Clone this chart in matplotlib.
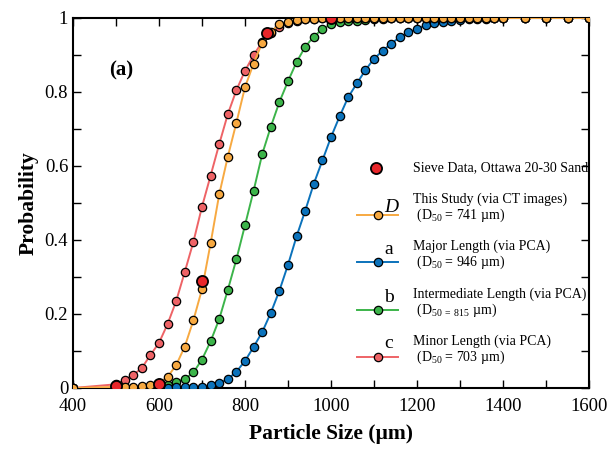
import numpy as np
import matplotlib
matplotlib.use("Agg")
import matplotlib.pyplot as plt
from matplotlib.ticker import MultipleLocator

plt.rcParams['font.family'] = ['Liberation Serif', 'DejaVu Serif']
plt.rcParams['mathtext.fontset'] = 'custom'
plt.rcParams['mathtext.rm'] = 'Liberation Serif'
plt.rcParams['mathtext.it'] = 'Liberation Serif:italic'
plt.rcParams['mathtext.bf'] = 'Liberation Serif:bold'

# particle sizes (um) where the CDFs are sampled
sizes = [400, 500, 520, 540, 560, 580, 600, 620, 640, 660, 680, 700, 720, 740, 760,
         780, 800, 820, 840, 860, 880, 900, 920, 940, 960, 980, 1000, 1020, 1040,
         1060, 1080, 1100, 1120, 1140, 1160, 1180, 1200, 1220, 1240, 1260, 1280,
         1300, 1320, 1340, 1360, 1380, 1400, 1450, 1500, 1550, 1600]

# this study (CT images)
p_study = [0.0, 0.003, 0.002, 0.003, 0.005, 0.008, 0.013, 0.030, 0.062, 0.112, 0.183,
           0.267, 0.391, 0.523, 0.625, 0.717, 0.813, 0.877, 0.933, 0.963, 0.983,
           0.990, 0.995, 0.997, 0.998, 0.999, 1.0, 1.0, 1.0, 1.0, 1.0, 1.0, 1.0,
           1.0, 1.0, 1.0, 1.0, 1.0, 1.0, 1.0, 1.0, 1.0, 1.0, 1.0, 1.0, 1.0, 1.0,
           1.0, 1.0, 1.0, 1.0]

# major length (PCA)
p_major = [0.0, 0.0, 0.0, 0.0, 0.0, 0.0, 0.001, 0.001, 0.002, 0.002, 0.003, 0.004,
           0.007, 0.013, 0.024, 0.044, 0.073, 0.111, 0.151, 0.203, 0.263, 0.333,
           0.410, 0.479, 0.552, 0.615, 0.678, 0.734, 0.786, 0.823, 0.859, 0.890,
           0.911, 0.931, 0.948, 0.961, 0.970, 0.981, 0.986, 0.990, 0.992, 0.994,
           0.996, 0.997, 0.998, 0.999, 1.0, 1.0, 1.0, 1.0, 1.0]

# intermediate length (PCA)
p_inter = [0.0, 0.0, 0.0, 0.0, 0.001, 0.002, 0.004, 0.009, 0.017, 0.024, 0.042,
           0.077, 0.126, 0.186, 0.265, 0.348, 0.440, 0.533, 0.632, 0.706, 0.773,
           0.829, 0.881, 0.922, 0.950, 0.970, 0.983, 0.988, 0.991, 0.993, 0.995,
           0.997, 0.998, 0.999, 1.0, 1.0, 1.0, 1.0, 1.0, 1.0, 1.0, 1.0, 1.0, 1.0,
           1.0, 1.0, 1.0, 1.0, 1.0, 1.0, 1.0]

# minor length (PCA)
p_minor = [0.0, 0.010, 0.022, 0.035, 0.054, 0.089, 0.122, 0.173, 0.235, 0.314, 0.395,
           0.490, 0.574, 0.659, 0.740, 0.805, 0.857, 0.900, 0.935, 0.960, 0.976,
           0.987, 0.993, 0.996, 0.998, 0.999, 1.0, 1.0, 1.0, 1.0, 1.0, 1.0, 1.0,
           1.0, 1.0, 1.0, 1.0, 1.0, 1.0, 1.0, 1.0, 1.0, 1.0, 1.0, 1.0, 1.0, 1.0,
           1.0, 1.0, 1.0, 1.0]

# sieve data
sieve_x = [500, 600, 700, 850, 1000]
sieve_p = [0.006, 0.012, 0.29, 0.96, 1.0]

fig = plt.figure(figsize=(6.15, 4.5), dpi=100)
ax = fig.add_axes([73/615, 1 - 388/450, 516/615, 370/450])

mk = dict(marker='o', markersize=6, markeredgecolor='black', markeredgewidth=0.9, lw=1.4)
ax.plot(sizes, p_inter, color='#3cb44a', zorder=2, **mk)
ax.plot(sizes, p_major, color='#0b72bb', zorder=3, **mk)
ax.plot(sizes, p_minor, color='#ee6366', zorder=4, **mk)
ax.plot(sizes, p_study, color='#f7a941', zorder=5, **mk)
ax.plot(sieve_x, sieve_p, ls='none', marker='o', markersize=8, color='#e8262a',
        markeredgecolor='black', markeredgewidth=1.3, zorder=6)

ax.set_xlim(400, 1600)
ax.set_ylim(0, 1)
ax.xaxis.set_major_locator(MultipleLocator(200))
ax.xaxis.set_minor_locator(MultipleLocator(100))
ax.yaxis.set_major_locator(MultipleLocator(0.2))
ax.yaxis.set_minor_locator(MultipleLocator(0.1))
ax.set_yticks([0, 0.2, 0.4, 0.6, 0.8, 1.0])
ax.set_yticklabels(['0', '0.2', '0.4', '0.6', '0.8', '1'])
ax.tick_params(which='both', direction='in', top=True, right=True, length=6,
               width=1.0, labelsize=13.5)
ax.tick_params(axis='x', pad=7)
for s in ax.spines.values():
    s.set_linewidth(1.5)

ax.set_xlabel('Particle Size (µm)', fontsize=15.5, fontweight='bold', labelpad=7)
ax.set_ylabel('Probability', fontsize=15.5, fontweight='bold', labelpad=4)
ax.text(0.07, 0.845, '(a)', transform=ax.transAxes, fontsize=15, fontweight='bold')

# hand-made legend
def px(x, y):
    return (x - 73) / 516, (388 - y) / 370

tr = ax.transAxes
mx, my = px(376, 168)
ax.plot([mx], [my], 'o', markersize=8, color='#e8262a', markeredgecolor='black',
        markeredgewidth=1.3, transform=tr, clip_on=False)
ax.text(px(413, 0)[0], my, 'Sieve Data, Ottawa 20-30 Sand', transform=tr,
        fontsize=10, va='center')

entries = [
    ('#f7a941', 215, 'D', 0.009, 'This Study (via CT images)', r' (D$_{50}$ = 741 µm)'),
    ('#0b72bb', 262, 'a', 0.021, 'Major Length (via PCA)', r' (D$_{50}$ = 946 µm)'),
    ('#3cb44a', 310, 'b', 0.021, 'Intermediate Length (via PCA)', r' (D$_{50\ =\ 815}$ µm)'),
    ('#ee6366', 357, 'c', 0.025, 'Minor Length (via PCA)', r' (D$_{50}$ = 703 µm)'),
]
x0, _ = px(357, 0)
x1, _ = px(398, 0)
xm, _ = px(378, 0)
xt, _ = px(413, 0)
xl, _ = px(384, 0)
for color, ypix, letter, dy, line1, line2 in entries:
    _, y = px(0, ypix)
    ax.plot([x0, x1], [y, y], color=color, lw=1.4, transform=tr, clip_on=False)
    ax.plot([xm], [y], 'o', markersize=6, color=color, markeredgecolor='black',
            markeredgewidth=0.9, transform=tr, clip_on=False)
    ax.text(xl, y + dy, letter, transform=tr, fontsize=14, va='baseline',
            style='italic' if letter == 'D' else 'normal')
    ax.text(xt, y + 0.043, line1, transform=tr, fontsize=10, va='center')
    ax.text(xt, y, line2, transform=tr, fontsize=10, va='center')

fig.savefig('out.png', dpi=100)
